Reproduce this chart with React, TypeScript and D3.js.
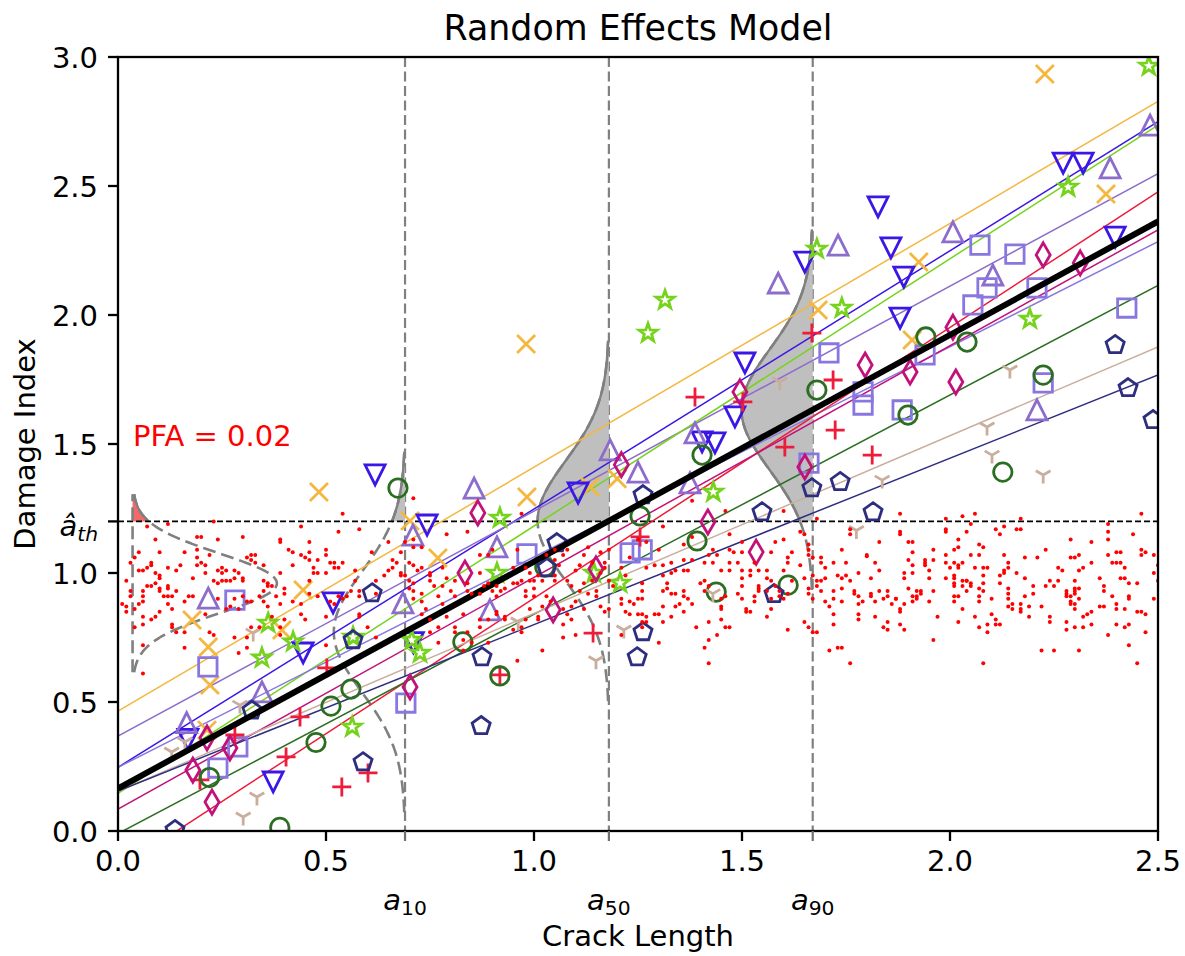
import React from 'react';
import * as d3 from 'd3';

// ---------------- data ----------------
const xTicks = [0, 0.5, 1.0, 1.5, 2.0, 2.5];
const yTicks = [0, 0.5, 1.0, 1.5, 2.0, 2.5, 3.0];
const aTh = 1.2;
const aLevels = [0.69, 1.18, 1.67];
const aSubs = ['10', '50', '90'];
const meanIntercept = 0.165;
const meanSlope = 0.879;
const signalSd = 0.233;
const noiseMean = 0.96;
const noiseSd = 0.115;
const noiseBase = 0.035;
const pdfScale = 0.1;
const pfaText = 'PFA = 0.02';

const specColors = ['#f4b740', '#3b17e6', '#8c6dcc', '#76d31c', '#8877e0', '#ee1c3a', '#c2127a', '#2b6e22', '#c9ae9e', '#2e2e80'];
const specMarkers = ['x', 'v', '^', '*', 's', '+', 'd', 'o', '1', 'p'];
const specIntercepts = [0.465, 0.247, 0.368, 0.146, 0.247, -0.148, 0.085, -0.01, 0.154, 0.155];
const specSlopes = [0.945, 1.001, 0.872, 1.036, 0.815, 1.05, 0.898, 0.85, 0.689, 0.645];

const ptsOrange: [number, number][] = [[2.228,2.934],[2.375,2.469],[1.925,2.205],[1.909,1.903],[1.683,2.019],[0.981,1.888],[0.983,1.295],[1.135,1.333],[1.2,1.365],[0.483,1.314],[0.702,1.202],[0.769,1.058],[0.445,0.934],[0.178,0.818],[0.217,0.713],[0.394,0.779],[0.221,0.566],[0.214,0.391]];
const ptsBlue: [number, number][] = [[2.272,2.589],[2.32,2.589],[2.397,2.302],[1.827,2.419],[1.858,2.26],[1.889,2.147],[1.88,1.988],[1.651,2.205],[1.507,1.814],[1.483,1.605],[1.435,1.504],[1.404,1.508],[1.106,1.31],[0.743,1.186],[0.618,1.38],[0.517,0.884],[0.445,0.69],[0.373,0.19],[0.168,0.355],[0.71,0.73]];
const ptsPurple: [number, number][] = [[2.481,2.736],[2.385,2.57],[2.007,2.322],[2.103,2.155],[2.209,1.632],[1.731,2.271],[1.587,2.124],[1.387,1.543],[1.375,1.349],[1.25,1.391],[1.183,1.477],[0.911,1.101],[0.894,0.857],[0.856,1.329],[0.709,1.147],[0.685,0.884],[0.217,0.903],[0.346,0.539],[0.165,0.42]];
const ptsGreen: [number, number][] = [[2.478,2.965],[2.284,2.496],[2.192,1.984],[1.74,2.027],[1.68,2.256],[1.315,2.058],[1.274,1.93],[1.431,1.314],[1.144,1.0],[1.207,0.961],[0.918,1.213],[0.911,1.0],[0.706,0.74],[0.726,0.69],[0.565,0.752],[0.563,0.403],[0.346,0.671],[0.361,0.806],[0.421,0.733]];
const ptsSquare: [number, number][] = [[2.425,2.027],[2.224,1.737],[2.072,2.271],[2.156,2.236],[2.089,2.105],[2.055,2.039],[2.209,2.105],[1.94,1.845],[1.791,1.702],[1.791,1.651],[1.885,1.632],[1.709,1.853],[1.661,1.426],[1.231,1.078],[1.26,1.09],[0.983,1.074],[0.692,0.496],[0.281,0.895],[0.216,0.636],[0.24,0.244],[0.288,0.326]];
const ptsCrimson: [number, number][] = [[1.668,1.93],[1.719,1.748],[1.813,1.457],[1.724,1.554],[1.603,1.488],[1.502,1.663],[1.387,1.682],[1.142,0.767],[0.918,0.605],[1.255,1.14],[0.538,0.171],[0.601,0.225],[0.404,0.287],[0.4375,0.442],[0.502,0.632],[0.281,0.372],[0.197,0.198]];
const ptsDiamond: [number, number][] = [[2.224,2.233],[2.313,2.202],[2.014,1.74],[2.007,1.953],[1.904,1.779],[1.796,1.806],[1.495,1.702],[1.651,1.411],[1.534,1.081],[1.418,1.198],[1.21,1.42],[0.865,1.233],[0.834,1.0],[0.702,0.558],[1.149,1.016],[1.046,0.857],[0.214,0.361],[0.18,0.236],[0.226,0.112],[0.269,0.322]];
const ptsCircle: [number, number][] = [[2.041,1.895],[2.224,1.767],[1.942,1.915],[1.899,1.612],[2.127,1.391],[1.68,1.709],[1.611,0.953],[1.438,0.926],[1.404,1.457],[1.392,1.124],[1.255,1.221],[1.026,1.023],[0.829,0.733],[0.918,0.601],[0.673,1.329],[0.56,0.55],[0.512,0.484],[0.476,0.343],[0.389,0.014],[0.22,0.207]];
const ptsTan: [number, number][] = [[2.144,1.787],[2.089,1.566],[2.101,1.457],[2.224,1.38],[1.837,1.36],[1.591,1.74],[1.775,1.165],[1.43,0.92],[1.216,0.779],[1.149,0.66],[0.962,0.81],[0.325,0.767],[0.334,0.132],[0.301,0.054],[0.129,0.306],[0.293,0.488],[0.161,0.345]];
const ptsNavy: [number, number][] = [[2.397,1.884],[2.428,1.717],[2.488,1.593],[1.815,1.236],[1.736,1.353],[1.668,1.329],[1.548,1.236],[1.262,1.302],[1.055,1.116],[1.031,1.019],[0.875,0.674],[0.611,0.922],[0.565,0.74],[1.262,0.771],[1.248,0.674],[1.577,0.919],[0.873,0.407],[0.589,0.267],[0.322,0.467],[0.137,0.004]];
const specPoints = [ptsOrange, ptsBlue, ptsPurple, ptsGreen, ptsSquare, ptsCrimson, ptsDiamond, ptsCircle, ptsTan, ptsNavy];

const noiseLeft: [number, number][] = [[0.12,1.19],[0.23,1.2],[0.07,1.18],[0.09,1.13],[0.19,1.14],[0.2,1.14],[0.24,1.13],[0.3,1.14],[0.39,1.13],[0.39,1.12],[0.44,1.18],[0.53,1.16],[0.58,1.17],[0.54,1.23],[0.46,1.12],[0.05,1.08],[0.04,1.06],[0.03,1.04],[0.02,0.97],[0.03,0.93],[0.03,0.91],[0.01,0.88],[0.02,0.87],[0.02,0.85],[0.04,0.86],[0.05,0.88],[0.06,0.93],[0.07,0.95],[0.08,0.95],[0.06,0.91],[0.06,0.89],[0.08,1.04],[0.08,1.03],[0.06,1.01],[0.05,1.01],[0.07,1.02],[0.09,1.0],[0.1,0.99],[0.1,0.98],[0.09,0.96],[0.1,0.94],[0.12,0.95],[0.12,0.94],[0.1,0.93],[0.11,0.91],[0.12,0.91],[0.13,0.91],[0.14,0.93],[0.13,0.86],[0.12,0.88],[0.1,0.85],[0.09,0.83],[0.08,0.82],[0.06,0.8],[0.06,0.83],[0.04,0.79],[0.06,0.72],[0.13,0.8],[0.13,0.79],[0.14,0.77],[0.16,0.71],[0.16,0.77],[0.17,0.91],[0.18,0.91],[0.16,0.89],[0.18,0.98],[0.14,1.01],[0.15,1.03],[0.12,1.02],[0.1,1.08],[0.16,1.08],[0.19,1.06],[0.2,1.04],[0.19,1.03],[0.21,1.0],[0.21,1.03],[0.19,1.09],[0.22,1.07],[0.24,1.01],[0.25,1.02],[0.25,1.0],[0.26,1.01],[0.25,0.97],[0.24,0.96],[0.26,0.97],[0.27,0.97],[0.28,0.98],[0.28,1.01],[0.29,1.0],[0.31,1.06],[0.32,1.07],[0.33,1.07],[0.32,1.05],[0.33,1.04],[0.35,1.03],[0.35,0.97],[0.36,0.96],[0.36,0.95],[0.37,0.95],[0.35,0.93],[0.34,0.91],[0.32,0.89],[0.31,0.89],[0.3,0.91],[0.28,0.9],[0.29,0.86],[0.27,0.87],[0.26,0.86],[0.24,0.9],[0.23,0.97],[0.3,0.98],[0.3,0.97],[0.21,0.84],[0.22,0.77],[0.23,0.76],[0.28,0.75],[0.31,0.71],[0.29,0.69],[0.31,0.75],[0.32,0.79],[0.34,0.79],[0.35,0.89],[0.36,0.87],[0.38,0.91],[0.39,0.88],[0.37,0.83],[0.39,0.76],[0.39,0.79],[0.4,0.92],[0.4,0.94],[0.39,1.0],[0.42,1.03],[0.41,1.09],[0.42,1.08],[0.44,1.07],[0.45,1.06],[0.46,1.08],[0.46,1.05],[0.48,1.05],[0.47,1.02],[0.47,1.0],[0.46,0.97],[0.48,1.0],[0.5,1.09],[0.5,1.07],[0.51,1.04],[0.52,1.04],[0.5,1.0],[0.52,1.02],[0.53,1.02],[0.54,1.04],[0.57,1.01],[0.57,0.97],[0.58,0.93],[0.58,0.91],[0.56,0.93],[0.55,0.91],[0.54,0.9],[0.48,0.91],[0.46,0.92],[0.44,0.88],[0.42,0.89],[0.44,0.84],[0.45,0.82],[0.5,0.83],[0.51,0.89],[0.52,0.88],[0.53,0.91],[0.58,0.84],[0.58,0.83],[0.61,1.08],[0.62,0.97],[0.62,0.92],[0.6,0.79],[0.62,0.75],[0.5,0.72],[0.4,0.82],[0.06,0.61]];

const noiseMid: [number, number][] = [[0.71,1.29],[0.79,1.15],[0.84,1.16],[0.97,1.23],[0.65,1.12],[0.69,1.12],[0.71,1.1],[0.73,1.1],[0.68,1.08],[0.71,1.13],[0.66,1.05],[0.67,1.04],[0.65,1.01],[0.64,0.99],[0.66,1.02],[0.68,1.0],[0.68,0.99],[0.69,0.99],[0.7,1.04],[0.71,1.03],[0.72,1.01],[0.73,1.02],[0.7,0.97],[0.71,0.96],[0.7,0.94],[0.71,0.93],[0.73,0.92],[0.73,0.89],[0.71,0.9],[0.75,0.99],[0.75,0.97],[0.75,1.0],[0.78,1.02],[0.76,0.95],[0.78,0.95],[0.77,0.91],[0.74,0.86],[0.73,0.84],[0.75,0.82],[0.77,0.79],[0.75,0.77],[0.78,0.88],[0.79,0.83],[0.8,0.93],[0.81,0.97],[0.79,0.98],[0.81,0.91],[0.83,0.84],[0.84,0.93],[0.84,0.96],[0.85,0.92],[0.87,0.92],[0.88,0.95],[0.87,1.0],[0.87,1.07],[0.89,1.07],[0.9,1.09],[0.89,0.96],[0.9,0.93],[0.91,0.95],[0.92,0.93],[0.91,0.91],[0.93,0.94],[0.95,0.96],[0.95,1.02],[0.96,1.09],[0.98,1.02],[0.99,1.0],[0.97,0.97],[0.96,0.96],[0.98,0.93],[0.98,0.91],[1.0,0.91],[1.0,0.94],[1.0,0.97],[0.99,0.97],[1.01,0.99],[1.02,0.97],[1.03,1.07],[1.05,1.09],[1.05,1.05],[1.06,1.03],[1.07,1.07],[1.08,1.09],[1.05,0.99],[1.05,0.97],[1.03,0.91],[1.04,0.89],[1.02,0.87],[1.01,0.83],[1.01,0.82],[0.99,0.86],[0.98,0.82],[0.97,0.79],[0.97,0.77],[0.95,0.78],[0.93,0.82],[0.93,0.83],[0.91,0.84],[0.91,0.85],[0.89,0.82],[0.87,0.82],[0.87,0.79],[0.84,0.77],[0.83,0.74],[0.85,0.73],[0.83,0.7],[0.81,0.79],[0.81,0.77],[0.77,0.73],[0.89,0.73],[1.02,0.7],[0.96,0.66],[1.07,0.86],[1.08,0.84],[1.09,0.82],[1.07,0.75],[1.09,0.87],[1.1,0.89],[1.11,0.93],[1.09,0.95],[1.08,0.97],[1.1,1.01],[1.11,1.03],[1.12,1.07],[1.13,1.1],[1.14,1.04],[1.16,1.08],[1.17,1.04],[1.18,1.09],[1.17,1.02],[1.16,1.0],[1.14,0.97],[1.12,0.96],[1.13,0.92],[1.12,0.86],[1.15,0.91],[1.15,0.93],[1.16,0.87],[1.17,0.85],[1.18,0.86],[1.21,0.9],[1.21,0.88],[1.23,0.89],[1.23,0.84],[1.22,0.85],[1.24,0.88],[1.25,0.9],[1.25,0.84],[1.19,0.95],[1.18,0.97],[1.21,1.02],[1.22,0.99],[1.23,1.06],[1.25,1.13],[1.21,0.76],[1.07,0.8],[1.1,0.76]];

const noiseRightMid: [number, number][] = [[1.38,1.28],[1.46,1.24],[1.31,1.18],[1.6,1.24],[1.68,1.21],[1.76,1.17],[1.83,1.12],[1.88,1.16],[1.76,1.15],[1.64,1.16],[1.65,1.15],[1.6,1.13],[1.58,1.12],[1.47,1.15],[1.38,1.14],[1.36,1.11],[1.27,1.12],[1.3,1.09],[1.43,1.09],[1.47,1.09],[1.48,1.08],[1.5,1.12],[1.5,1.08],[1.42,1.07],[1.44,1.07],[1.41,1.04],[1.43,1.04],[1.38,1.05],[1.36,1.05],[1.33,1.04],[1.31,1.03],[1.29,1.03],[1.27,1.02],[1.34,1.01],[1.36,1.01],[1.37,1.01],[1.31,0.99],[1.33,1.0],[1.32,0.96],[1.47,1.01],[1.47,1.04],[1.49,1.04],[1.5,1.01],[1.52,1.01],[1.54,1.01],[1.56,1.01],[1.52,0.99],[1.5,0.98],[1.5,0.95],[1.45,1.01],[1.53,1.04],[1.57,1.08],[1.61,1.06],[1.62,1.08],[1.61,1.04],[1.64,1.03],[1.66,1.11],[1.66,1.09],[1.66,1.07],[1.67,1.06],[1.69,1.06],[1.69,1.04],[1.7,1.02],[1.72,1.04],[1.75,1.04],[1.74,1.09],[1.8,1.07],[1.8,1.065],[1.83,1.01],[1.82,1.04],[1.78,1.0],[1.81,0.98],[1.75,0.99],[1.76,0.97],[1.74,0.98],[1.7,0.98],[1.69,0.97],[1.68,0.95],[1.68,0.97],[1.65,0.98],[1.67,0.99],[1.66,0.94],[1.54,0.95],[1.54,0.94],[1.54,0.93],[1.53,0.91],[1.53,0.89],[1.51,0.86],[1.51,0.85],[1.52,0.85],[1.5,0.9],[1.49,0.92],[1.46,0.91],[1.45,0.9],[1.45,0.87],[1.45,0.86],[1.45,0.82],[1.46,0.79],[1.47,0.79],[1.4,0.96],[1.41,0.97],[1.42,0.95],[1.41,0.93],[1.42,0.81],[1.39,0.79],[1.38,0.88],[1.36,0.93],[1.37,0.9],[1.36,0.91],[1.34,0.92],[1.35,0.88],[1.34,0.87],[1.33,0.92],[1.32,0.94],[1.31,0.93],[1.31,0.87],[1.29,0.84],[1.3,0.84],[1.27,0.83],[1.26,0.84],[1.26,0.9],[1.26,0.93],[1.26,0.96],[1.26,0.81],[1.26,0.79],[1.27,0.81],[1.36,0.85],[1.33,0.83],[1.31,0.81],[1.3,0.73],[1.41,0.71],[1.42,0.74],[1.44,0.76],[1.42,0.65],[1.56,0.83],[1.61,0.78],[1.65,0.81],[1.66,0.79],[1.67,0.77],[1.68,0.77],[1.71,0.7],[1.73,0.71],[1.74,0.71],[1.76,0.65],[1.72,0.8],[1.72,0.84],[1.7,0.89],[1.71,0.87],[1.72,0.93],[1.72,0.9],[1.74,0.89],[1.74,0.94],[1.73,0.99],[1.77,0.92],[1.77,0.93],[1.78,0.91],[1.78,0.88],[1.78,0.84],[1.78,0.82],[1.79,0.89],[1.81,0.92],[1.81,0.91],[1.82,0.83],[1.82,0.89],[1.83,0.93],[1.85,0.93],[1.85,0.91],[1.84,0.9],[1.84,0.79],[1.85,0.81],[1.85,0.78],[1.86,0.88],[1.87,0.9],[1.87,0.9],[1.88,0.85],[1.59,0.93],[1.6,0.9],[1.57,0.9],[1.57,0.86],[1.6,1.01],[1.62,0.97],[1.56,0.93],[1.56,0.98],[1.57,0.97],[1.58,0.95],[1.59,0.91],[1.61,0.92],[1.66,0.92],[1.67,0.9],[1.69,0.93]];

const noiseRight: [number, number][] = [[1.88,1.23],[1.88,1.15],[1.9,1.12],[1.91,1.12],[1.89,1.0],[1.91,1.08],[1.9,1.05],[1.91,1.03],[1.91,1.0],[1.89,0.98],[1.9,0.94],[1.91,0.91],[1.92,0.91],[1.92,0.93],[1.93,0.93],[1.93,0.92],[1.92,0.9],[1.91,0.89],[1.89,0.88],[1.88,0.86],[1.88,0.8],[1.89,0.78],[1.94,1.05],[1.94,1.04],[1.94,1.03],[1.95,1.01],[1.95,0.98],[1.96,1.09],[1.96,1.05],[1.96,0.93],[1.95,0.89],[1.97,0.83],[1.96,0.74],[1.99,1.21],[1.99,1.17],[1.99,1.16],[2.03,1.22],[2.06,1.23],[2.05,1.19],[2.04,1.16],[2.02,1.13],[2.02,1.1],[2.01,1.09],[1.99,1.07],[1.99,1.04],[2.0,1.02],[2.01,1.04],[2.02,1.02],[2.02,1.03],[2.03,1.04],[1.99,0.98],[2.01,0.99],[2.01,0.98],[2.01,0.96],[2.01,0.95],[2.03,0.97],[2.04,0.97],[2.04,0.97],[2.03,0.95],[2.05,0.95],[2.05,0.96],[2.04,0.93],[2.07,0.94],[2.08,0.93],[2.07,0.91],[2.01,0.91],[2.02,0.91],[2.01,0.89],[2.03,0.86],[2.02,0.81],[2.06,1.02],[2.05,1.07],[2.07,1.11],[2.08,1.1],[2.07,1.07],[2.08,1.02],[2.09,1.02],[2.08,0.99],[2.08,0.96],[2.1,0.9],[2.07,0.89],[2.06,0.83],[2.07,0.79],[2.09,0.8],[2.09,0.77],[2.08,0.65],[2.1,0.84],[2.11,0.82],[2.11,0.8],[2.12,0.8],[2.11,1.17],[2.12,1.15],[2.13,1.18],[2.16,1.17],[2.17,1.17],[2.17,1.21],[2.13,1.07],[2.14,1.04],[2.14,1.02],[2.13,1.01],[2.13,1.0],[2.12,0.99],[2.12,0.96],[2.14,0.94],[2.14,0.92],[2.14,0.9],[2.15,0.88],[2.14,0.87],[2.15,0.86],[2.17,0.88],[2.17,0.86],[2.17,0.85],[2.19,0.87],[2.18,0.91],[2.2,0.95],[2.2,0.92],[2.19,0.83],[2.18,1.06],[2.18,0.98],[2.16,1.0],[2.21,1.06],[2.23,1.09],[2.22,0.87],[2.24,0.83],[2.24,0.81],[2.22,0.7],[2.25,0.7],[2.23,0.95],[2.24,0.97],[2.25,0.95],[2.26,1.02],[2.27,1.01],[2.26,0.97],[2.28,0.92],[2.28,0.91],[2.28,0.93],[2.29,0.91],[2.3,0.93],[2.3,0.94],[2.3,0.92],[2.31,0.94],[2.29,0.89],[2.29,0.88],[2.3,0.86],[2.3,0.88],[2.31,0.9],[2.3,0.97],[2.29,1.13],[2.29,1.06],[2.3,1.06],[2.31,1.07],[2.31,1.01],[2.32,1.02],[2.28,0.81],[2.28,0.78],[2.3,0.79],[2.32,0.79],[2.31,0.7],[2.32,0.83],[2.33,0.84],[2.34,0.85],[2.34,0.8],[2.34,1.04],[2.34,1.12],[2.36,0.98],[2.37,0.93],[2.37,0.95],[2.36,0.87],[2.37,0.87],[2.38,1.19],[2.38,1.16],[2.38,1.13],[2.38,1.07],[2.39,0.91],[2.39,1.04],[2.4,1.08],[2.4,1.04],[2.41,1.04],[2.41,0.98],[2.41,1.08],[2.42,1.02],[2.42,0.98],[2.43,0.96],[2.4,0.88],[2.4,0.86],[2.42,0.86],[2.43,0.91],[2.43,0.9],[2.45,0.85],[2.4,0.8],[2.43,0.8],[2.42,0.79],[2.38,0.76],[2.43,0.72],[2.45,0.65],[2.45,0.96],[2.44,1.15],[2.46,1.23],[2.46,1.09],[2.46,1.07],[2.47,1.08],[2.49,1.07],[2.49,1.0],[2.5,1.03],[2.5,0.97],[2.49,0.9],[2.46,0.85],[2.47,0.84],[2.47,0.77]];

const noiseGroups = [noiseLeft, noiseMid, noiseRightMid, noiseRight];

// ---------------- helpers ----------------
const FONT = 'DejaVu Sans, Liberation Sans, sans-serif';
const W = 1185;
const H = 956;
const L = 118, R = 1158, T = 57, B = 831;

function starPath(Ro: number, Ri: number) {
  const p: string[] = [];
  for (let k = 0; k < 10; k++) {
    const ang = -Math.PI / 2 + (k * Math.PI) / 5;
    const rad = k % 2 === 0 ? Ro : Ri;
    p.push(`${(rad * Math.cos(ang)).toFixed(2)},${(rad * Math.sin(ang)).toFixed(2)}`);
  }
  return 'M' + p.join('L') + 'Z';
}
function polyPath(n: number, Ro: number) {
  const p: string[] = [];
  for (let k = 0; k < n; k++) {
    const ang = -Math.PI / 2 + (k * 2 * Math.PI) / n;
    p.push(`${(Ro * Math.cos(ang)).toFixed(2)},${(Ro * Math.sin(ang)).toFixed(2)}`);
  }
  return 'M' + p.join('L') + 'Z';
}
function markerPath(m: string): string {
  switch (m) {
    case 'x': { const h = 9; return `M${-h},${-h}L${h},${h}M${-h},${h}L${h},${-h}`; }
    case '+': { const h = 9.5; return `M${-h},0H${h}M0,${-h}V${h}`; }
    case 'v': { const h = 10; return `M${-h},${-h}L${h},${-h}L0,${h}Z`; }
    case '^': { const h = 10; return `M0,${-h}L${h},${h}L${-h},${h}Z`; }
    case 's': { const h = 9.2; return `M${-h},${-h}H${h}V${h}H${-h}Z`; }
    case 'd': return 'M0,-12L7,0L0,12L-7,0Z';
    case '*': return starPath(9.5, 3.8);
    case 'p': return polyPath(5, 9.5);
    case '1': { const h = 8.5; return `M0,0L0,${h}M0,0L${-0.866 * h},${-0.5 * h}M0,0L${0.866 * h},${-0.5 * h}`; }
    default: return '';
  }
}
const pdf = (v: number, m: number, s: number) => Math.exp(-0.5 * ((v - m) / s) ** 2) / (s * Math.sqrt(2 * Math.PI));

type DP = { u: number; v: number };

export default function App() {
  const x = d3.scaleLinear().domain([0, 2.5]).range([L, R]);
  const y = d3.scaleLinear().domain([0, 3]).range([B, T]);

  const line = d3.line<DP>().x(d => x(d.u)).y(d => y(d.v));

  // signal densities
  const signal = aLevels.map(a => {
    const mu = meanIntercept + meanSlope * a;
    const lo = mu - 3 * signalSd, hi = mu + 3 * signalSd;
    const vs = d3.range(lo, hi, 0.004).concat([hi]);
    const pts: DP[] = vs.map(v => ({ v, u: a - pdfScale * pdf(v, mu, signalSd) }));
    const fillVs = [aTh].concat(vs.filter(v => v > aTh));
    const fillPts: DP[] = fillVs.map(v => ({ v, u: a - pdfScale * pdf(v, mu, signalSd) }));
    const area = d3.area<DP>().y(d => y(d.v)).x0(x(a)).x1(d => x(d.u));
    return { a, pts, fillPts, areaD: area(fillPts) || '' };
  });

  // noise density
  const nLo = noiseMean - 3 * noiseSd, nHi = noiseMean + 3 * noiseSd;
  const nVs = d3.range(nLo, nHi, 0.003).concat([nHi]);
  const noisePts: DP[] = nVs.map(v => ({ v, u: noiseBase + pdfScale * pdf(v, noiseMean, noiseSd) }));
  const nFillVs = [aTh].concat(nVs.filter(v => v > aTh));
  const noiseFill: DP[] = nFillVs.map(v => ({ v, u: noiseBase + pdfScale * pdf(v, noiseMean, noiseSd) }));
  const noiseArea = d3.area<DP>().y(d => y(d.v)).x0(x(noiseBase)).x1(d => x(d.u))(noiseFill) || '';

  const yTickFmt = d3.format('.1f');

  return (
    <svg width={W} height={H} style={{ position: 'absolute', left: 0, top: 0, background: '#fff' }} fontFamily={FONT}>
      <defs>
        <clipPath id="plotclip"><rect x={L} y={T} width={R - L} height={B - T} /></clipPath>
      </defs>
      <rect x={0} y={0} width={W} height={H} fill="#fff" />
      <g clipPath="url(#plotclip)">
        {aLevels.map((a, i) => (
          <line key={'av' + i} x1={x(a)} x2={x(a)} y1={T} y2={B} stroke="#808080" strokeWidth={2.2} strokeDasharray="10,4.5" />
        ))}
        {signal.map((s, i) => (
          <g key={'sf' + i}>
            <path d={s.areaD} fill="#bfbfbf" stroke="none" />
            <path d={line(s.fillPts) || ''} fill="none" stroke="#808080" strokeWidth={2.4} />
          </g>
        ))}
        <path d={noiseArea} fill="#f46a6a" stroke="none" />
        <path d={line(noiseFill) || ''} fill="none" stroke="#808080" strokeWidth={2.4} />
        {signal.map((s, i) => (
          <path key={'sc' + i} d={line(s.pts) || ''} fill="none" stroke="#808080" strokeWidth={2.6} strokeDasharray="13,6" />
        ))}
        <path d={line(noisePts) || ''} fill="none" stroke="#808080" strokeWidth={2.6} strokeDasharray="13,6" />
        <line x1={x(noiseBase)} x2={x(noiseBase)} y1={y(nLo)} y2={y(nHi)} stroke="#808080" strokeWidth={2.6} strokeDasharray="13,6" />
        <line x1={L} x2={R} y1={y(aTh)} y2={y(aTh)} stroke="#000" strokeWidth={1.6} strokeDasharray="6,3" />
        {specIntercepts.map((b, i) => (
          <line key={'sl' + i} x1={x(0)} x2={x(2.5)} y1={y(b)} y2={y(b + specSlopes[i] * 2.5)} stroke={specColors[i]} strokeWidth={1.5} />
        ))}
        {specPoints.map((pts, i) => (
          <g key={'sm' + i} fill="none" stroke={specColors[i]} strokeWidth={2.8} strokeLinejoin="miter">
            {pts.map((p, j) =>
              specMarkers[i] === 'o' ? (
                <circle key={j} cx={x(p[0])} cy={y(p[1])} r={9.2} />
              ) : (
                <path key={j} d={markerPath(specMarkers[i])} transform={`translate(${x(p[0])},${y(p[1])})`} />
              )
            )}
          </g>
        ))}
        <line x1={x(0)} x2={x(2.5)} y1={y(meanIntercept)} y2={y(meanIntercept + meanSlope * 2.5)} stroke="#000" strokeWidth={6} />
        {noiseGroups.map((g, gi) => (
          <g key={'ng' + gi} fill="#ff0000">
            {g.map((p, j) => <circle key={j} cx={x(p[0])} cy={y(p[1])} r={2} />)}
          </g>
        ))}
      </g>
      <text x={133} y={446} fontSize={29} fill="#ff0000">{pfaText}</text>
      <rect x={L} y={T} width={R - L} height={B - T} fill="none" stroke="#000" strokeWidth={2.3} />
      {xTicks.map((t, i) => (
        <g key={'xt' + i}>
          <line x1={x(t)} x2={x(t)} y1={B} y2={B + 10} stroke="#000" strokeWidth={2.3} />
          <text x={x(t)} y={B + 40} fontSize={29} textAnchor="middle" fill="#000">{yTickFmt(t)}</text>
        </g>
      ))}
      {aLevels.map((a, i) => (
        <g key={'at' + i}>
          <line x1={x(a)} x2={x(a)} y1={B} y2={B + 10} stroke="#707070" strokeWidth={2.2} />
          <text x={x(a)} y={910} fontSize={29} textAnchor="middle" fill="#000">
            <tspan fontStyle="italic">a</tspan>
            <tspan fontSize={20.3} dy={5}>{aSubs[i]}</tspan>
          </text>
        </g>
      ))}
      {yTicks.map((t, i) => (
        <g key={'yt' + i}>
          <line x1={L - 10} x2={L} y1={y(t)} y2={y(t)} stroke="#000" strokeWidth={2.3} />
          <text x={L - 20} y={y(t) + 10.5} fontSize={29} textAnchor="end" fill="#000">{yTickFmt(t)}</text>
        </g>
      ))}
      <line x1={L - 10} x2={L} y1={y(aTh)} y2={y(aTh)} stroke="#000" strokeWidth={2.3} />
      <text x={L - 20} y={y(aTh) + 15} fontSize={29} textAnchor="end" fill="#000" fontStyle="italic">
        <tspan>â</tspan>
        <tspan fontSize={20.3} dy={5}>th</tspan>
      </text>
      <text x={(L + R) / 2} y={946} fontSize={29} textAnchor="middle" fill="#000">Crack Length</text>
      <text transform={`translate(35,${(T + B) / 2}) rotate(-90)`} fontSize={29} textAnchor="middle" fill="#000">Damage Index</text>
      <text x={(L + R) / 2} y={40} fontSize={34.8} textAnchor="middle" fill="#000">Random Effects Model</text>
    </svg>
  );
}
